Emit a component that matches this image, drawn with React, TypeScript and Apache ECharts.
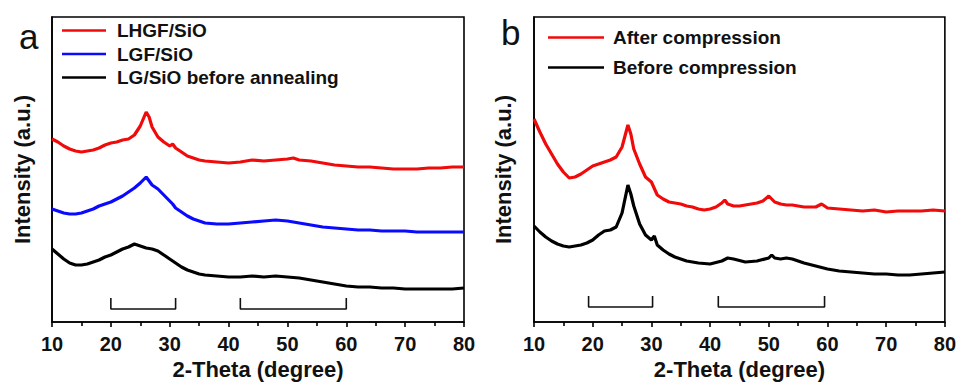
import React, { useEffect, useRef } from "react";
import * as echarts from "echarts";

// ---- Panel a data (2θ in degrees, intensity in arbitrary units) ----
const thetaA_LHGF = [10, 11, 12, 13, 14, 15, 16, 17, 18, 19, 20, 21, 22, 23, 24, 25, 26, 26.5, 27, 28, 29, 30, 30.5, 31, 32, 33, 34, 35, 36, 38, 40, 42, 44, 46, 48, 50, 51, 52, 54, 56, 58, 60, 62, 64, 66, 68, 70, 72, 74, 76, 78, 80];
const intensityA_LHGF = [183, 180, 176, 173, 171, 170, 171, 172, 174, 177, 179, 180, 182, 183, 187, 196, 210, 205, 195, 185, 180, 176, 178, 174, 170, 166, 164, 162, 161, 160, 159, 160, 162, 161, 162, 163, 164, 162, 161, 159, 157, 156, 155, 155, 154, 153, 153, 153, 154, 154, 155, 155];

const thetaA_LGF = [10, 11, 12, 13, 14, 15, 16, 17, 18, 19, 20, 21, 22, 23, 24, 25, 26, 26.5, 27, 28, 29, 30, 30.5, 31, 32, 33, 34, 35, 36, 38, 40, 42, 44, 46, 48, 50, 52, 54, 56, 58, 60, 62, 64, 66, 68, 70, 72, 74, 76, 78, 80];
const intensityA_LGF = [113, 111, 109, 108, 108, 109, 111, 113, 116, 118, 120, 123, 126, 130, 134, 139, 145, 141, 137, 133, 127, 121, 118, 114, 110, 106, 103, 101, 99, 98, 98, 99, 100, 101, 102, 101, 99, 97, 95, 94, 93, 92, 92, 91, 91, 91, 90, 90, 90, 90, 90];

const thetaA_LG = [10, 11, 12, 13, 14, 15, 16, 17, 18, 19, 20, 21, 22, 23, 24, 25, 26, 27, 28, 29, 30, 31, 32, 33, 34, 35, 36, 38, 40, 42, 44, 46, 48, 50, 52, 54, 56, 58, 60, 62, 64, 66, 68, 70, 72, 74, 76, 78, 80];
const intensityA_LG = [73, 68, 63, 59, 57, 57, 58, 60, 62, 65, 67, 70, 73, 75, 78, 76, 74, 73, 71, 67, 63, 59, 55, 52, 50, 48, 47, 46, 45, 45, 46, 45, 46, 45, 44, 42, 40, 38, 36, 35, 35, 34, 34, 33, 33, 33, 33, 33, 34];

// ---- Panel b data ----
const thetaB_After = [10, 11, 12, 13, 14, 15, 16, 17, 18, 19, 20, 21, 22, 23, 24, 25, 26, 26.5, 27, 28, 29, 30, 31, 32, 33, 34, 35, 36, 37, 38, 39, 40, 41, 42, 42.5, 43, 44, 45, 46, 47, 48, 49, 50, 51, 52, 53, 54, 55, 56, 57, 58, 59, 60, 62, 64, 66, 68, 70, 72, 74, 76, 78, 80];
const intensityB_After = [203, 190, 178, 168, 158, 150, 144, 145, 148, 152, 156, 158, 160, 162, 165, 175, 197, 188, 173, 158, 145, 140, 127, 123, 120, 119, 118, 116, 115, 113, 112, 113, 115, 119, 122, 118, 116, 116, 117, 118, 119, 121, 126, 120, 118, 117, 117, 116, 115, 115, 115, 118, 114, 113, 112, 111, 112, 110, 111, 111, 111, 112, 111];

const thetaB_Before = [10, 11, 12, 13, 14, 15, 16, 17, 18, 19, 20, 21, 22, 23, 24, 25, 26, 26.5, 27, 28, 29, 30, 30.5, 31, 32, 33, 34, 35, 36, 38, 40, 42, 43, 44, 46, 48, 50, 50.5, 51, 52, 53, 54, 56, 58, 60, 62, 64, 66, 68, 70, 72, 74, 76, 78, 80];
const intensityB_Before = [96, 90, 85, 81, 78, 76, 75, 76, 77, 79, 82, 87, 91, 92, 95, 109, 137, 128, 116, 98, 87, 82, 86, 77, 72, 68, 65, 63, 61, 59, 58, 61, 64, 63, 60, 61, 64, 67, 64, 63, 64, 63, 59, 56, 53, 51, 50, 49, 48, 48, 47, 47, 48, 49, 50];

// ---- Bracket annotations (2θ ranges) and their heights ----
const bracketsA = [[20, 31], [42, 60]];
const bracketsB = [[19.3, 30.2], [41.4, 59.5]];
const bracketLevelsA = [13, 24];
const bracketLevelsB = [15, 26];

const xTicks = [10, 20, 30, 40, 50, 60, 70, 80];

const namesA = ["LHGF/SiO", "LGF/SiO", "LG/SiO before annealing"];
const namesB = ["After compression", "Before compression"];

const FONT = "'Liberation Sans', Arial, Helvetica, sans-serif";
const RED = "#f00a0a";
const BLUE = "#0a0aff";
const BLACK = "#000000";

function zip(xs: number[], ys: number[]) {
  return xs.map((x, i) => [x, ys[i]]);
}

function bracketSeries(ranges: number[][], levels: number[], idx: number) {
  return ranges.map((r) => ({
    type: "line",
    xAxisIndex: idx,
    yAxisIndex: idx,
    symbol: "none",
    silent: true,
    lineStyle: { color: "#111", width: 1.6 },
    data: [
      [r[0], levels[1]],
      [r[0], levels[0]],
      [r[1], levels[0]],
      [r[1], levels[1]],
    ],
  }));
}

function xAxis(idx: number) {
  return {
    type: "value",
    gridIndex: idx,
    min: 10,
    max: 80,
    interval: 10,
    name: "2-Theta (degree)",
    nameLocation: "middle",
    nameGap: 36,
    nameTextStyle: { fontFamily: FONT, fontWeight: "bold", fontSize: 22, color: "#111" },
    axisLine: { show: true, lineStyle: { color: "#000", width: 1.6 } },
    axisTick: { show: true, inside: false, length: 5, lineStyle: { color: "#000", width: 1.6 } },
    minorTick: { show: true, splitNumber: 2, length: 4, lineStyle: { color: "#000", width: 1.6 } },
    splitLine: { show: false },
    minorSplitLine: { show: false },
    axisLabel: {
      margin: 12,
      fontFamily: FONT,
      fontWeight: "bold",
      fontSize: 20,
      color: "#111",
      formatter: (v: number) => (xTicks.includes(v) ? String(v) : ""),
    },
  };
}

function yAxis(idx: number, gap: number) {
  return {
    type: "value",
    gridIndex: idx,
    min: 0,
    max: 305,
    name: "Intensity (a.u.)",
    nameLocation: "middle",
    nameRotate: 90,
    nameGap: gap,
    nameTextStyle: { fontFamily: FONT, fontWeight: "bold", fontSize: 22, color: "#111" },
    axisLine: { show: true, lineStyle: { color: "#000", width: 1.6 } },
    axisTick: { show: false },
    axisLabel: { show: false },
    splitLine: { show: false },
  };
}

export default function App() {
  const ref = useRef<HTMLDivElement>(null);

  useEffect(() => {
    if (!ref.current) return;
    document.body.style.margin = "0";
    const chart = echarts.init(ref.current, undefined, { renderer: "svg" });

    const lineStyle = (c: string) => ({ color: c, width: 3.2 });

    const option: any = {
      animation: false,
      backgroundColor: "#ffffff",
      grid: [
        { left: 52, top: 17, width: 412, bottom: 65, show: true, borderColor: "#000", borderWidth: 1.6, backgroundColor: "transparent" },
        { left: 534, top: 17, width: 413, bottom: 65, show: true, borderColor: "#000", borderWidth: 1.6, backgroundColor: "transparent" },
      ],
      xAxis: [xAxis(0), xAxis(1)],
      yAxis: [yAxis(0, 19), yAxis(1, 20)],
      legend: [
        {
          data: namesA,
          orient: "vertical",
          left: 62,
          top: 21,
          padding: 0,
          itemGap: 4.5,
          itemWidth: 44,
          itemHeight: 2.5,
          icon: "rect",
          selectedMode: false,
          textStyle: { fontFamily: FONT, fontWeight: "bold", fontSize: 19, color: "#111", padding: [0, 0, 0, 6] },
        },
        {
          data: namesB,
          orient: "vertical",
          left: 548,
          top: 28,
          padding: 0,
          itemGap: 11,
          itemWidth: 56,
          itemHeight: 2.5,
          icon: "rect",
          selectedMode: false,
          textStyle: { fontFamily: FONT, fontWeight: "bold", fontSize: 19, color: "#111", padding: [0, 0, 0, 4] },
        },
      ],
      graphic: [
        { type: "text", left: 19, top: 19, style: { text: "a", font: `normal 35px ${FONT}`, fill: "#111" } },
        { type: "text", left: 501, top: 15, style: { text: "b", font: `normal 35px ${FONT}`, fill: "#111" } },
      ],
      series: [
        { name: namesA[0], type: "line", xAxisIndex: 0, yAxisIndex: 0, symbol: "none", color: RED, lineStyle: lineStyle(RED), data: zip(thetaA_LHGF, intensityA_LHGF) },
        { name: namesA[1], type: "line", xAxisIndex: 0, yAxisIndex: 0, symbol: "none", color: BLUE, lineStyle: lineStyle(BLUE), data: zip(thetaA_LGF, intensityA_LGF) },
        { name: namesA[2], type: "line", xAxisIndex: 0, yAxisIndex: 0, symbol: "none", color: BLACK, lineStyle: lineStyle(BLACK), data: zip(thetaA_LG, intensityA_LG) },
        { name: namesB[0], type: "line", xAxisIndex: 1, yAxisIndex: 1, symbol: "none", color: RED, lineStyle: lineStyle(RED), data: zip(thetaB_After, intensityB_After) },
        { name: namesB[1], type: "line", xAxisIndex: 1, yAxisIndex: 1, symbol: "none", color: BLACK, lineStyle: lineStyle(BLACK), data: zip(thetaB_Before, intensityB_Before) },
        ...bracketSeries(bracketsA, bracketLevelsA, 0),
        ...bracketSeries(bracketsB, bracketLevelsB, 1),
      ],
    };

    chart.setOption(option);
    return () => chart.dispose();
  }, []);

  return (
    <div
      ref={ref}
      style={{ position: "fixed", left: 0, top: 0, width: 959, height: 387, background: "#fff" }}
    />
  );
}
